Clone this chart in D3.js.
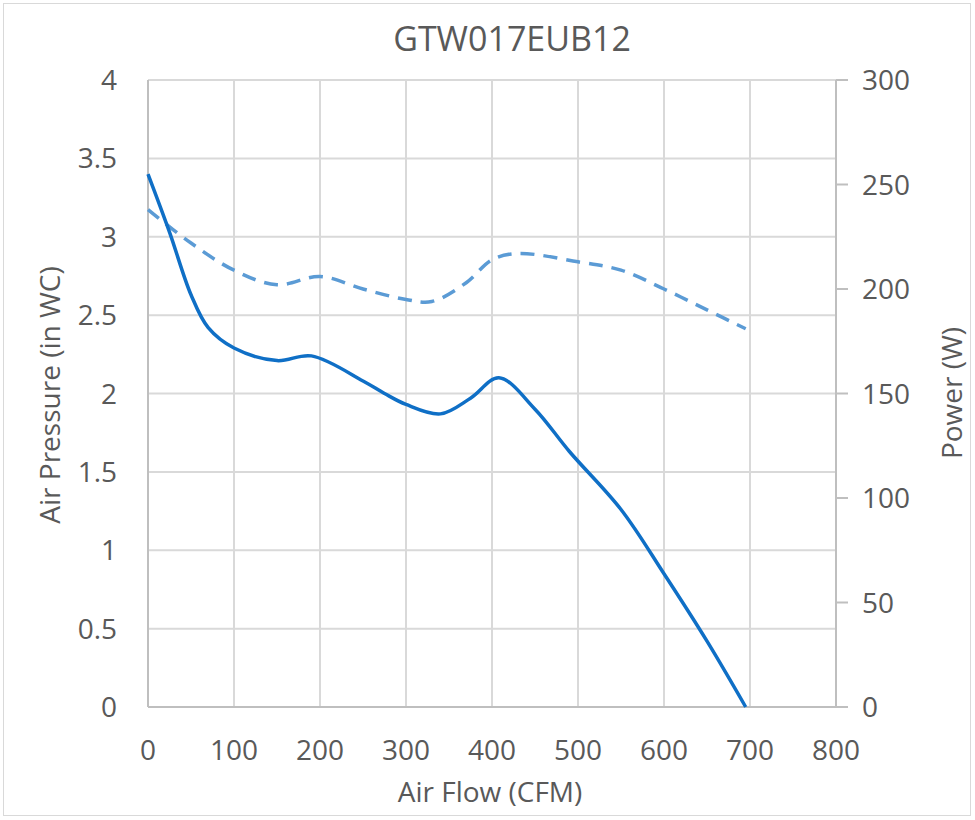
<!DOCTYPE html>
<html><head><meta charset="utf-8">
<script src="https://cdn.jsdelivr.net/npm/d3@7"></script>
<style>body{margin:0;background:#fff}svg{display:block}text{font-family:"Open Sans","Noto Sans",sans-serif;fill:#595959}</style>
</head><body><svg id="c" width="975" height="820"></svg>
<script>
const title = "GTW017EUB12";
const xTicks = [0,100,200,300,400,500,600,700,800];
const yLeftTicks = [0,0.5,1,1.5,2,2.5,3,3.5,4];
const yRightTicks = [0,50,100,150,200,250,300];
const pressureFlow = [0,25,50,70,100,150,190,250,275,300,340,375,408,450,490,550,600,650,695];
const pressureVals = [3.4,3.03,2.63,2.42,2.29,2.21,2.24,2.08,2.0,1.93,1.87,1.97,2.1,1.9,1.63,1.26,0.85,0.42,0];
const powerFlow = [0,50,100,150,200,250,300,330,370,400,430,500,550,600,650,695];
const powerVals = [238,222,209,202,206,200,195,194,203,214,217,213,209,200,190,181];

const svg = d3.select("#c");
svg.append("rect").attr("x",3.5).attr("y",3.5).attr("width",967).attr("height",812)
  .attr("fill","#fff").attr("stroke","#d9d9d9");
const L=148,R=836,T=80,B=707;
const x = d3.scaleLinear().domain([0,800]).range([L,R]);
const yL = d3.scaleLinear().domain([0,4]).range([B,T]);
const yR = d3.scaleLinear().domain([0,300]).range([B,T]);

// grid
const g = svg.append("g");
g.selectAll(".vg").data(xTicks).join("line").attr("x1",d=>x(d)).attr("x2",d=>x(d))
  .attr("y1",T).attr("y2",B).attr("stroke","#d9d9d9").attr("stroke-width",2);
g.selectAll(".hg").data(yLeftTicks).join("line").attr("x1",L).attr("x2",R)
  .attr("y1",d=>yL(d)).attr("y2",d=>yL(d)).attr("stroke","#d9d9d9").attr("stroke-width",2);

// axes lines
svg.append("line").attr("x1",L).attr("x2",L).attr("y1",T).attr("y2",B).attr("stroke","#bfbfbf").attr("stroke-width",2);
svg.append("line").attr("x1",L).attr("x2",R+12).attr("y1",B).attr("y2",B).attr("stroke","#bfbfbf").attr("stroke-width",2);
svg.append("line").attr("x1",R).attr("x2",R).attr("y1",T).attr("y2",B).attr("stroke","#bfbfbf").attr("stroke-width",2);
svg.selectAll(".rt").data(yRightTicks).join("line").attr("x1",R).attr("x2",R+12)
  .attr("y1",d=>yR(d)).attr("y2",d=>yR(d)).attr("stroke","#bfbfbf").attr("stroke-width",2);

// tick labels
const fs = 28;
svg.selectAll(".xl").data(xTicks).join("text").attr("x",d=>x(d)).attr("y",B+53)
  .attr("text-anchor","middle").attr("font-size",fs).text(d=>d);
svg.selectAll(".yl").data(yLeftTicks).join("text").attr("x",L-31).attr("y",d=>yL(d)+10)
  .attr("text-anchor","end").attr("font-size",fs).text(d=>d);
svg.selectAll(".yr").data(yRightTicks).join("text").attr("x",R+26).attr("y",d=>yR(d)+10)
  .attr("text-anchor","start").attr("font-size",fs).text(d=>d);

// titles
svg.append("text").attr("x",512).attr("y",51).attr("text-anchor","middle")
  .attr("font-size",34).attr("font-weight",500).text(title);
svg.append("text").attr("x",490).attr("y",802).attr("text-anchor","middle")
  .attr("font-size",28).text("Air Flow (CFM)");
svg.append("text").attr("transform",`translate(60,395) rotate(-90)`).attr("text-anchor","middle")
  .attr("font-size",28).text("Air Pressure (in WC)");
svg.append("text").attr("transform",`translate(962,393) rotate(-90)`).attr("text-anchor","middle")
  .attr("font-size",28).text("Power (W)");

// lines
const pressureData = pressureFlow.map((f,i)=>[f,pressureVals[i]]);
const powerData = powerFlow.map((f,i)=>[f,powerVals[i]]);
svg.append("path").datum(powerData).attr("fill","none").attr("stroke","#5b9bd5").attr("stroke-width",3.5)
  .attr("stroke-dasharray","14,9")
  .attr("d",d3.line().x(d=>x(d[0])).y(d=>yR(d[1])).curve(d3.curveCatmullRom.alpha(0.5)));
svg.append("path").datum(pressureData).attr("fill","none").attr("stroke","#0f6fc6").attr("stroke-width",3.5)
  .attr("d",d3.line().x(d=>x(d[0])).y(d=>yL(d[1])).curve(d3.curveCatmullRom.alpha(0.5)));
</script></body></html>
